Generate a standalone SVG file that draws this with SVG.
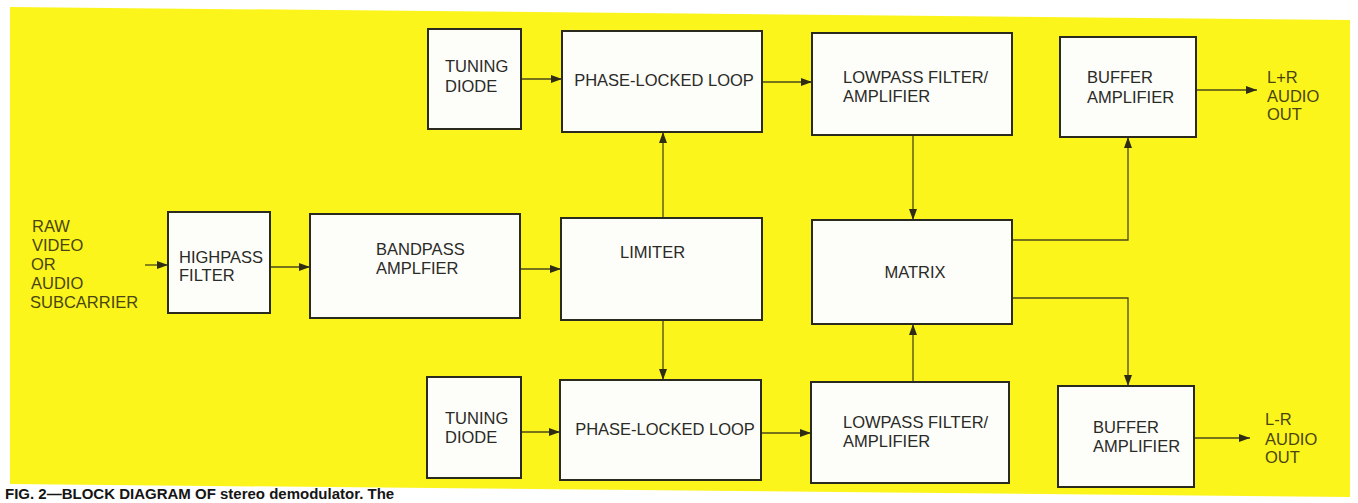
<svg xmlns="http://www.w3.org/2000/svg" width="1358" height="503" viewBox="0 0 1358 503">
<defs>
<style>
.box{fill:#fdfdfa;stroke:#2a2a1e;stroke-width:2}
.t{font-family:"Liberation Sans",Arial,sans-serif;font-size:16.5px;fill:#2a2a26}
.lab{font-family:"Liberation Sans",Arial,sans-serif;font-size:16.5px;fill:#4a4510}
.c{fill:none;stroke:#4a4718;stroke-width:1.3}
.cap{font-family:"Liberation Sans",Arial,sans-serif;font-size:15px;font-weight:bold;fill:#151515}
</style>
<marker id="ah" markerUnits="userSpaceOnUse" markerWidth="11" markerHeight="8" refX="11" refY="4" orient="auto">
<path d="M0,0 L11,4 L0,8 z" fill="#2e2c14"/>
</marker>
</defs>
<rect x="0" y="0" width="1358" height="503" fill="#ffffff"/>
<polygon points="10,7 1350,20 1350,497 10,484" fill="#fbf51c"/>

<g id="connectors">
<path class="c" d="M145,265 H168" marker-end="url(#ah)"/>
<path class="c" d="M270,267 H310" marker-end="url(#ah)"/>
<path class="c" d="M520,269 H561" marker-end="url(#ah)"/>
<path class="c" d="M663,218 V132" marker-end="url(#ah)"/>
<path class="c" d="M663,320 V380" marker-end="url(#ah)"/>
<path class="c" d="M521,79 H562" marker-end="url(#ah)"/>
<path class="c" d="M762,82 H812" marker-end="url(#ah)"/>
<path class="c" d="M913,135 V220" marker-end="url(#ah)"/>
<path class="c" d="M913,382 V324" marker-end="url(#ah)"/>
<path class="c" d="M1012,240 H1128 V137" marker-end="url(#ah)"/>
<path class="c" d="M1012,298 H1128 V386" marker-end="url(#ah)"/>
<path class="c" d="M1196,90 H1257" marker-end="url(#ah)"/>
<path class="c" d="M521,432 H560" marker-end="url(#ah)"/>
<path class="c" d="M761,433 H811" marker-end="url(#ah)"/>
<path class="c" d="M1194,438 H1250" marker-end="url(#ah)"/>
</g>

<g id="input-label">
<text class="lab" x="32" y="232">RAW</text>
<text class="lab" x="32" y="251">VIDEO</text>
<text class="lab" x="31" y="270">OR</text>
<text class="lab" x="31" y="289">AUDIO</text>
<text class="lab" x="30" y="308">SUBCARRIER</text>
</g>

<g id="highpass">
<rect class="box" x="168" y="212" width="102" height="101"/>
<text class="t" x="179" y="263">HIGHPASS</text>
<text class="t" x="179" y="281">FILTER</text>
</g>

<g id="bandpass">
<rect class="box" x="310" y="214" width="210" height="104"/>
<text class="t" x="376" y="255">BANDPASS</text>
<text class="t" x="376" y="274">AMPLFIER</text>
</g>

<g id="limiter">
<rect class="box" x="561" y="218" width="201" height="102"/>
<text class="t" x="620" y="258">LIMITER</text>
</g>

<g id="tuning-top">
<rect class="box" x="428" y="29" width="93" height="100"/>
<text class="t" x="445" y="72">TUNING</text>
<text class="t" x="445" y="92">DIODE</text>
</g>

<g id="pll-top">
<rect class="box" x="562" y="31" width="200" height="101"/>
<text class="t" x="664" y="86" text-anchor="middle">PHASE-LOCKED LOOP</text>
</g>

<g id="lowpass-top">
<rect class="box" x="812" y="33" width="200" height="102"/>
<text class="t" x="843" y="83">LOWPASS FILTER/</text>
<text class="t" x="843" y="102">AMPLIFIER</text>
</g>

<g id="buffer-top">
<rect class="box" x="1060" y="37" width="136" height="100"/>
<text class="t" x="1087" y="83">BUFFER</text>
<text class="t" x="1087" y="103">AMPLIFIER</text>
</g>

<g id="out-top">
<text class="lab" x="1267" y="83">L+R</text>
<text class="lab" x="1267" y="102">AUDIO</text>
<text class="lab" x="1267" y="120">OUT</text>
</g>

<g id="matrix">
<rect class="box" x="812" y="220" width="200" height="104"/>
<text class="t" x="915" y="278" text-anchor="middle">MATRIX</text>
</g>

<g id="tuning-bottom">
<rect class="box" x="427" y="377" width="94" height="101"/>
<text class="t" x="445" y="424">TUNING</text>
<text class="t" x="445" y="443">DIODE</text>
</g>

<g id="pll-bottom">
<rect class="box" x="560" y="380" width="201" height="100"/>
<text class="t" x="665" y="435" text-anchor="middle">PHASE-LOCKED LOOP</text>
</g>

<g id="lowpass-bottom">
<rect class="box" x="811" y="382" width="198" height="101"/>
<text class="t" x="843" y="428">LOWPASS FILTER/</text>
<text class="t" x="843" y="447">AMPLIFIER</text>
</g>

<g id="buffer-bottom">
<rect class="box" x="1058" y="386" width="136" height="101"/>
<text class="t" x="1093" y="433">BUFFER</text>
<text class="t" x="1093" y="452">AMPLIFIER</text>
</g>

<g id="out-bottom">
<text class="lab" x="1265" y="425">L-R</text>
<text class="lab" x="1265" y="445">AUDIO</text>
<text class="lab" x="1265" y="463">OUT</text>
</g>

<text class="cap" x="5" y="499">FIG. 2—BLOCK DIAGRAM OF stereo demodulator. The</text>
</svg>
